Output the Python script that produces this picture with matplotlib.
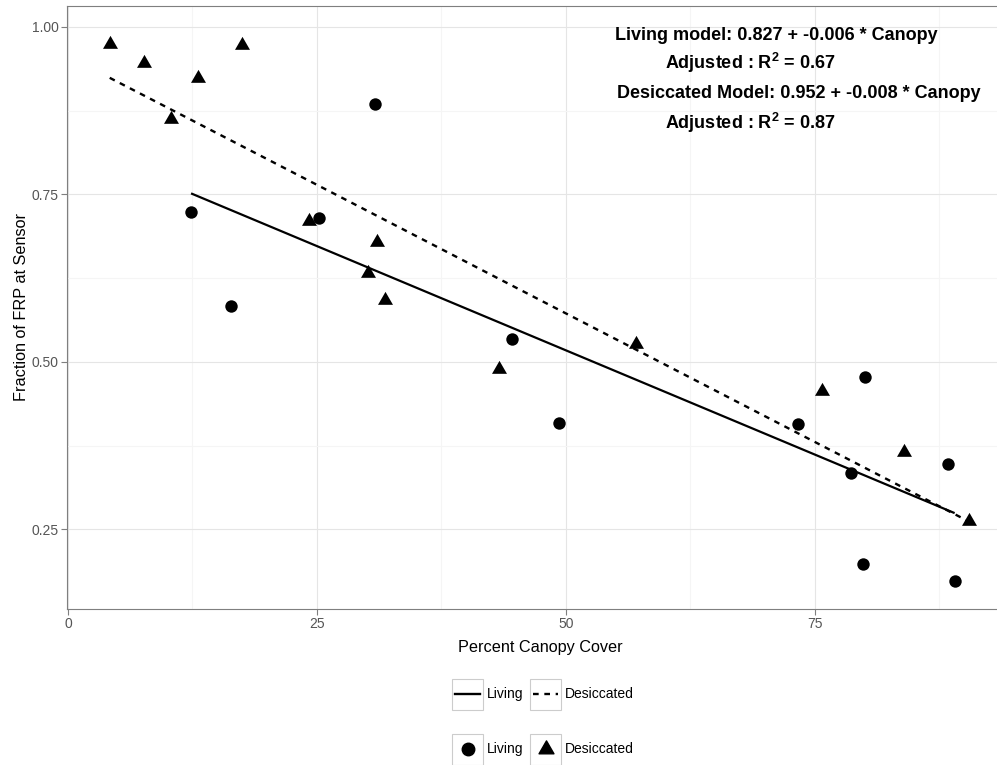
import numpy as np
import matplotlib
matplotlib.use("Agg")
import matplotlib.pyplot as plt
from matplotlib.lines import Line2D
from matplotlib.patches import Rectangle
from matplotlib.path import Path

plt.rcParams['font.family'] = ['Liberation Sans', 'DejaVu Sans']
plt.rcParams['mathtext.fontset'] = 'custom'
plt.rcParams['mathtext.rm'] = 'Liberation Sans'
plt.rcParams['mathtext.it'] = 'Liberation Sans'
plt.rcParams['mathtext.bf'] = 'Liberation Sans:bold'

# ---- data ----
living_canopy = [12.36, 16.35, 25.16, 30.82, 44.63, 49.3, 73.29, 78.65, 79.88, 80.02, 88.36, 89.04]
living_frp = [0.723, 0.584, 0.714, 0.884, 0.534, 0.409, 0.407, 0.334, 0.199, 0.477, 0.347, 0.173]
desic_canopy = [4.19, 7.6, 10.35, 13.07, 17.49, 24.19, 30.12, 31.02, 31.86, 43.27, 57.09, 75.74, 83.91, 90.46]
desic_frp = [0.974, 0.946, 0.862, 0.924, 0.972, 0.710, 0.632, 0.679, 0.592, 0.490, 0.526, 0.456, 0.365, 0.263]
x_ticks = [0, 25, 50, 75]
y_ticks = [0.25, 0.50, 0.75, 1.00]
y_tick_labels = ["0.25", "0.50", "0.75", "1.00"]
annot_lines = ["Living model: 0.827 + -0.006 * Canopy",
               r"Adjusted : R$^{\mathbf{2}}$ = 0.67",
               "Desiccated Model: 0.952 + -0.008 * Canopy",
               r"Adjusted : R$^{\mathbf{2}}$ = 0.87"]
legend_labels = ["Living", "Desiccated"]

W, H = 997, 765
fig = plt.figure(figsize=(W / 100, H / 100), dpi=100)
fig.patch.set_facecolor('white')

def fx(x):
    return x / W

def fy(y):
    return 1 - y / H

left, right, top, bottom = 67, 1013, 6, 609
ax = fig.add_axes([fx(left), fy(bottom), (right - left) / W, (bottom - top) / H])

grey50 = '#7F7F7F'
tri = Path([(0, 1.0), (-0.866, -0.5), (0.866, -0.5), (0, 1.0)],
           [Path.MOVETO, Path.LINETO, Path.LINETO, Path.CLOSEPOLY])

# grid
ax.set_xticks(x_ticks)
ax.set_xticks([12.5, 37.5, 62.5, 87.5], minor=True)
ax.set_yticks(y_ticks)
ax.set_yticklabels(y_tick_labels)
ax.set_yticks([0.375, 0.625, 0.875], minor=True)
ax.grid(True, which='major', color='#E5E5E5', lw=0.8, zorder=0)
ax.grid(True, which='minor', color='#F5F5F5', lw=0.8, zorder=0)
ax.set_axisbelow(True)

# regression lines
lx = np.array(living_canopy); ly = np.array(living_frp)
dx = np.array(desic_canopy); dy = np.array(desic_frp)
pl = np.polyfit(lx, ly, 1)
pd_ = np.polyfit(dx, dy, 1)
xl = np.array([lx.min(), lx.max()])
xd = np.array([dx.min(), dx.max()])
ax.plot(xl, np.polyval(pl, xl), color='black', lw=1.6, solid_capstyle='butt', zorder=3)
ax.plot(xd, np.polyval(pd_, xd), color='black', lw=1.7, ls=(0, (2.4, 2.4)), zorder=3)

# points
ax.scatter(lx, ly, s=80, marker='o', color='black', linewidths=0, zorder=4)
ax.scatter(dx, dy, s=155, marker=tri, color='black', linewidths=0, zorder=4)

ax.set_xlim(-0.1, 94.9)
ax.set_ylim(0.1314, 1.0309)

for sp in ax.spines.values():
    sp.set_color(grey50)
    sp.set_linewidth(0.8)
ax.tick_params(which='major', length=4, width=0.8, color=grey50, labelcolor='#555555',
               labelsize=10, pad=2)
ax.tick_params(which='minor', length=0)

ax.set_xlabel("Percent Canopy Cover", fontsize=11.7, labelpad=6)
fig.text(fx(22), fy(307), "Fraction of FRP at Sensor", rotation=90, fontsize=11.7,
         ha='center', va='center')

# annotations
ann_pos = [(615, 35), (665, 63), (617, 93), (665, 123)]
for (px_, py_), t in zip(ann_pos, annot_lines):
    fig.text(fx(px_), fy(py_), t, fontsize=13, fontweight='bold', ha='left', va='center')

# legends (ggplot-style boxed keys)
box_x = [452, 530]
rows = [694, 749]
bw = 31
for r, ry in enumerate(rows):
    for i, bx in enumerate(box_x):
        fig.add_artist(Rectangle((fx(bx), fy(ry + bw / 2)), bw / W, bw / H,
                                 transform=fig.transFigure, facecolor='white',
                                 edgecolor='#CCCCCC', lw=0.8))
        fig.text(fx(bx + bw + 4), fy(ry), legend_labels[i], fontsize=10,
                 ha='left', va='center')
        cx = bx + bw / 2
        if r == 0:
            ls = '-' if i == 0 else (0, (2.4, 2.4))
            fig.add_artist(Line2D([fx(bx + 3), fx(bx + bw - 3)], [fy(ry), fy(ry)],
                                  transform=fig.transFigure, color='black', lw=1.7, ls=ls))
        else:
            if i == 0:
                fig.add_artist(Line2D([fx(cx)], [fy(ry)], transform=fig.transFigure,
                                      marker='o', markersize=9.0, color='black', lw=0))
            else:
                fig.add_artist(Line2D([fx(cx)], [fy(ry)], transform=fig.transFigure,
                                      marker=tri, markersize=12.4, color='black', lw=0))

fig.savefig("out.png", dpi=100)
